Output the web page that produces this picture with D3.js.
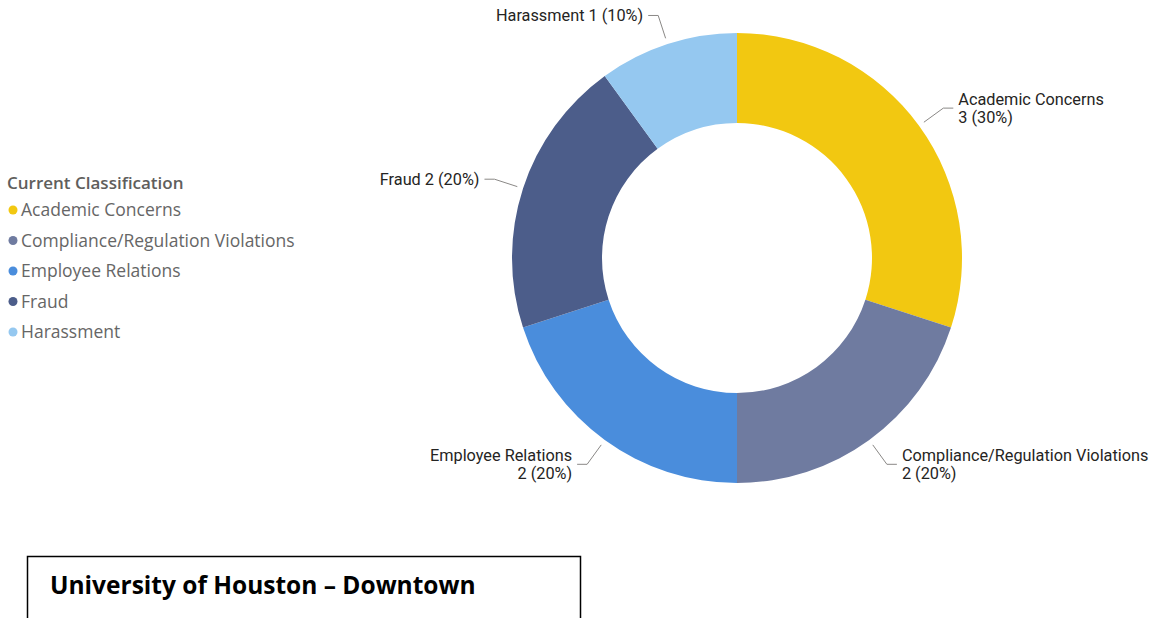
<!DOCTYPE html>
<html>
<head>
<meta charset="utf-8">
<script src="https://cdn.jsdelivr.net/npm/d3@7"></script>
<style>
  body { margin: 0; background: #fff; }
  svg { display: block; }
</style>
</head>
<body>
<script>
// Data
const categories = ["Academic Concerns", "Compliance/Regulation Violations", "Employee Relations", "Fraud", "Harassment"];
const counts = [3, 2, 2, 2, 1];
const colors = ["#F2C811", "#6F7BA0", "#4A8DDC", "#4C5D8A", "#95C8F0"];
const legendTitle = "Current Classification";
const footerText = "University of Houston \u2013 Downtown";
// labels that wrap onto two lines
const twoLine = ["Academic Concerns", "Compliance/Regulation Violations", "Employee Relations"];

// Constants
const WIDTH = 1154;
const HEIGHT = 618;
const CX = 737;
const CY = 258;
const R_OUT = 225;
const R_IN = 135;

const svg = d3.select("body")
  .append("svg")
  .attr("width", WIDTH)
  .attr("height", HEIGHT);

const total = d3.sum(counts);
const rows = categories.map((c, i) => ({ name: c, value: counts[i], color: colors[i] }));

const pie = d3.pie().sort(null).value((d) => d.value);
const arc = d3.arc().innerRadius(R_IN).outerRadius(R_OUT);
const arcs = pie(rows);

const chartGroup = svg.append("g")
  .attr("transform", `translate(${CX}, ${CY})`);

chartGroup.selectAll("path.slice")
  .data(arcs)
  .enter()
  .append("path")
  .attr("class", "slice")
  .attr("d", arc)
  .attr("fill", (d) => d.data.color);

// Leader lines + labels
const startArc = d3.arc().innerRadius(R_OUT + 6).outerRadius(R_OUT + 6);
const elbowArc = d3.arc().innerRadius(R_OUT + 30).outerRadius(R_OUT + 30);

arcs.forEach((d) => {
  const p0 = startArc.centroid(d);
  const p1 = elbowArc.centroid(d);
  const mid = (d.startAngle + d.endAngle) / 2;
  const right = mid < Math.PI;
  const p2 = [p1[0] + (right ? 10 : -10), p1[1]];
  const tx = p2[0] + (right ? 5 : -5);

  chartGroup.append("polyline")
    .attr("points", [p0, p1, p2].map((p) => p.join(",")).join(" "))
    .attr("fill", "none")
    .attr("stroke", "#8a8886")
    .attr("stroke-width", 1);

  const pct = Math.round(d.data.value / total * 100);
  const valText = `${d.data.value} (${pct}%)`;
  const t = chartGroup.append("text")
    .attr("x", tx)
    .attr("y", p2[1])
    .attr("text-anchor", right ? "start" : "end")
    .style("font-family", "Roboto, 'DejaVu Sans', sans-serif")
    .style("font-size", "16.3px")
    .style("fill", "#252423");

  if (twoLine.includes(d.data.name)) {
    t.append("tspan").attr("x", tx).attr("dy", "-0.22em").text(d.data.name);
    t.append("tspan").attr("x", tx).attr("dy", "1.12em").text(valText);
  } else {
    t.attr("dy", "0.35em").text(`${d.data.name} ${valText}`);
  }
});

// Legend
const legend = svg.append("g").attr("transform", "translate(7, 0)");

legend.append("text")
  .attr("x", 0)
  .attr("y", 183)
  .attr("dy", "0.35em")
  .style("font-family", "'Open Sans', sans-serif")
  .style("font-size", "17px")
  .style("font-weight", 600)
  .style("fill", "#605E5C")
  .text(legendTitle);

const legendY = d3.scalePoint()
  .domain(categories)
  .range([210, 332]);

const items = legend.selectAll("g.item")
  .data(rows)
  .enter()
  .append("g")
  .attr("class", "item")
  .attr("transform", (d) => `translate(0, ${legendY(d.name)})`);

items.append("circle")
  .attr("cx", 6)
  .attr("cy", 0)
  .attr("r", 4.5)
  .attr("fill", (d) => d.color);

items.append("text")
  .attr("x", 14)
  .attr("y", 0)
  .attr("dy", "0.35em")
  .style("font-family", "'Open Sans', sans-serif")
  .style("font-size", "17.5px")
  .style("fill", "#666666")
  .text((d) => d.name);

// Footer box
svg.append("rect")
  .attr("x", 27.5)
  .attr("y", 556.5)
  .attr("width", 553)
  .attr("height", 80)
  .attr("fill", "none")
  .attr("stroke", "#000")
  .attr("stroke-width", 1.5);

svg.append("text")
  .attr("x", 50)
  .attr("y", 594)
  .style("font-family", "'Open Sans', 'Liberation Sans', sans-serif")
  .style("font-size", "24.5px")
  .style("font-weight", 700)
  .style("fill", "#000")
  .text(footerText);
</script>
</body>
</html>
